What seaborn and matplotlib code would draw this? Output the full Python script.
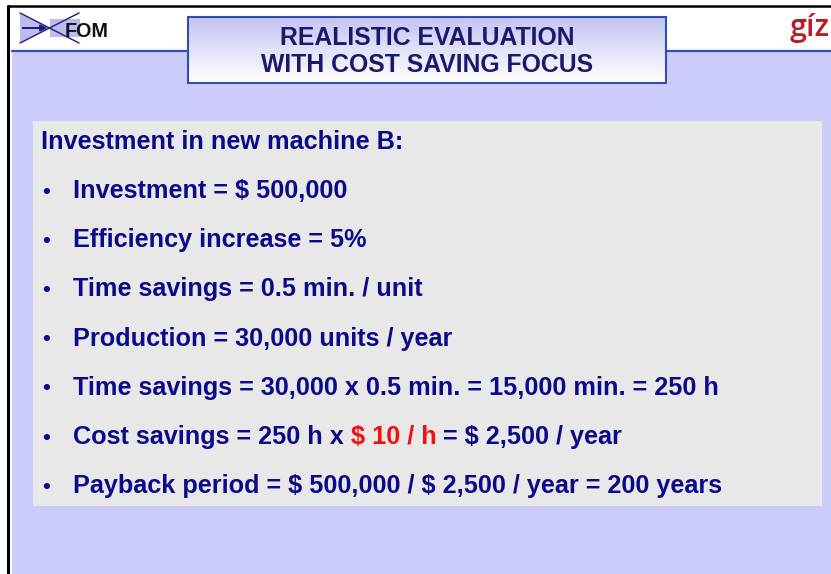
import numpy as np
import matplotlib
matplotlib.use("Agg")
import matplotlib.pyplot as plt
import matplotlib.patches as mpatches
from matplotlib.colors import LinearSegmentedColormap
import seaborn as sns

# Slide content
TITLE_LINES = ["REALISTIC EVALUATION", "WITH COST SAVING FOCUS"]
HEADING = "Investment in new machine B:"
BULLET_TEXTS = [
    "Investment = $ 500,000",
    "Efficiency increase = 5%",
    "Time savings = 0.5 min. / unit",
    "Production = 30,000 units / year",
    "Time savings = 30,000 x 0.5 min. = 15,000 min. = 250 h",
    "Cost savings = 250 h x $ 10 / h = $ 2,500 / year",
    "Payback period = $ 500,000 / $ 2,500 / year = 200 years",
]
# part of a bullet drawn in red (bullet index, highlighted substring)
HIGHLIGHT = {5: "$ 10 / h"}
LOGO_LEFT = "FOM"
LOGO_RIGHT = "gíz"

# Colours
NAVY = "#0b0b8a"
TITLE_NAVY = "#1a1a6c"
RED = "#f01010"
LAVENDER = "#ccccfa"
GREY_BOX = "#e8e8e8"
LINE_BLUE = "#2f4fae"
GIZ_RED = "#be1a22"

sns.set_theme(style="white")
plt.rcParams["font.family"] = ["Liberation Sans", "DejaVu Sans"]

W, H = 831, 574
fig = plt.figure(figsize=(W / 100, H / 100), dpi=100)
ax = fig.add_axes([0, 0, 1, 1])
ax.set_xlim(0, W)
ax.set_ylim(H, 0)
ax.axis("off")
fig.patch.set_facecolor("white")

# background areas
ax.add_patch(mpatches.Rectangle((12, 51), W - 12, H - 51, facecolor=LAVENDER, edgecolor="none", zorder=0))
ax.plot([12, W], [50.5, 50.5], color=LINE_BLUE, lw=1.6, zorder=1)
ax.plot([8, W], [5.5, 5.5], color="black", lw=1.8, zorder=5)
ax.plot([8, 8], [5.5, H], color="black", lw=2.2, zorder=5)

# title box with vertical gradient
grad = np.linspace(0, 1, 100).reshape(-1, 1)
cmap = LinearSegmentedColormap.from_list("tb", ["#c4c4f2", "#ffffff"])
ax.imshow(grad, extent=(188, 666, 83, 17), cmap=cmap, aspect="auto", zorder=2)
ax.add_patch(mpatches.Rectangle((188, 17), 478, 66, facecolor="none", edgecolor=LINE_BLUE, lw=1.5, zorder=3))
ax.set_xlim(0, W)
ax.set_ylim(H, 0)
for i, line in enumerate(TITLE_LINES):
    ax.text(427, 45 + i * 27, line, ha="center", va="baseline", fontsize=17.8,
            fontweight="bold", color=TITLE_NAVY, zorder=4)

# FOM logo
ax.add_patch(mpatches.Polygon([(20, 14), (50, 28), (20, 42)], closed=True,
                              facecolor="#bcbcee", edgecolor="none", zorder=2))
ax.add_patch(mpatches.Rectangle((50, 19), 30, 18, facecolor="#bcbcee", edgecolor="none", zorder=2))
ax.plot([20, 79], [13, 43], color="#2a2a80", lw=1.1, zorder=3)
ax.plot([20, 79], [43, 13], color="#2a2a80", lw=1.1, zorder=3)
ax.annotate("", xy=(50, 28), xytext=(20, 28),
            arrowprops=dict(arrowstyle="-|>", color="#1a1a80", lw=1.4, mutation_scale=9), zorder=3)
ax.text(65, 37, LOGO_LEFT, ha="left", va="baseline", fontsize=14.2, fontweight="bold", color="#111111", zorder=4)

# giz logo
ax.text(830, 36, LOGO_RIGHT, ha="right", va="baseline", fontsize=22,
        family=["Open Sans", "DejaVu Sans"], fontweight="semibold", color=GIZ_RED, zorder=4)

# content box
ax.add_patch(mpatches.Rectangle((33, 121), 789, 385, facecolor=GREY_BOX, edgecolor="none", zorder=1))

FS = 18.2
renderer = fig.canvas.get_renderer()


def text_width(s):
    # width including leading/trailing spaces
    t1 = ax.text(0, 0, "|" + s + "|", fontsize=FS, fontweight="bold", parse_math=False)
    t2 = ax.text(0, 0, "||", fontsize=FS, fontweight="bold", parse_math=False)
    w = t1.get_window_extent(renderer).width - t2.get_window_extent(renderer).width
    t1.remove()
    t2.remove()
    return w


ax.text(41, 149, HEADING, ha="left", va="baseline", fontsize=FS, fontweight="bold",
        color=NAVY, parse_math=False, zorder=4)

y0, step = 198, 49.2
for i, line in enumerate(BULLET_TEXTS):
    y = y0 + i * step
    ax.text(46, y - 0.5, "•", ha="center", va="baseline", fontsize=16, fontweight="bold", color=NAVY, zorder=4)
    if i in HIGHLIGHT:
        hl = HIGHLIGHT[i]
        k = line.index(hl)
        parts = [(line[:k], NAVY), (hl, RED), (line[k + len(hl):], NAVY)]
    else:
        parts = [(line, NAVY)]
    x = 73
    for s, c in parts:
        ax.text(x, y, s, ha="left", va="baseline", fontsize=FS, fontweight="bold",
                color=c, parse_math=False, zorder=4)
        x += text_width(s)

fig.savefig("out.png", dpi=100)
